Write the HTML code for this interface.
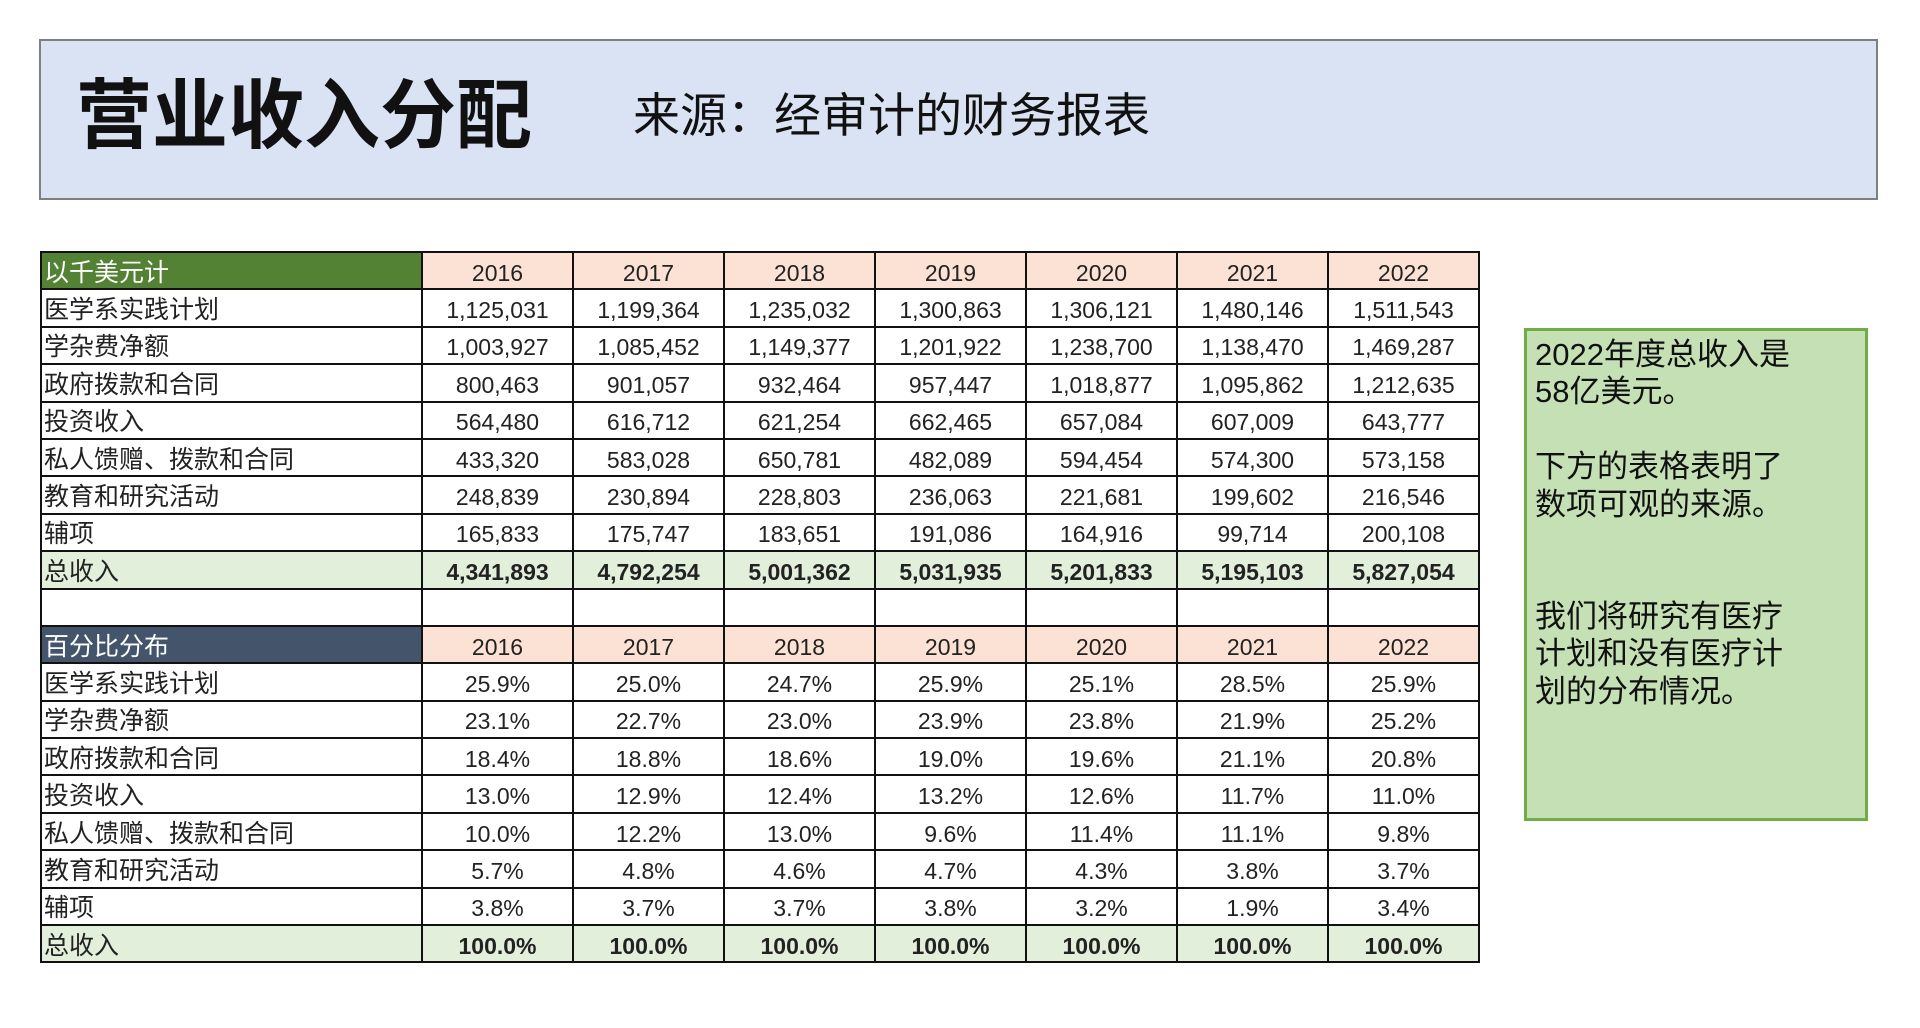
<!DOCTYPE html>
<html><head><meta charset="utf-8"><style>
body{margin:0;width:1920px;height:1028px;background:#fff;position:relative;overflow:hidden;font-family:"Liberation Sans","Noto Sans CJK SC",sans-serif;}
.hdr{position:absolute;left:39px;top:39px;width:1835px;height:157px;background:#dae3f3;border:2px solid #7f7f7f;}
.t1{position:absolute;left:76px;top:72px;font-size:76px;font-weight:bold;line-height:90px;color:#111;}
.t2{position:absolute;left:633px;top:86px;font-size:47px;line-height:60px;color:#111;}
table{position:absolute;left:40px;top:251px;border-collapse:collapse;table-layout:fixed;width:1440px;}
tr{height:37.4px;}
td{border:2px solid #111;height:37.4px;box-sizing:border-box;padding:4px 0 0 0;font-size:23px;text-align:center;color:#222;white-space:nowrap;overflow:hidden;line-height:30px;}
td.l{text-align:left;font-size:25px;padding-left:2px;}
.g{background:#548235;color:#fff;}
.b{background:#44546a;color:#fff;}
.y{background:#fbe2d5;}
.tot td{background:#e2efda;font-weight:bold;}
.box{position:absolute;left:1524px;top:328px;width:338px;height:487px;background:#c5e0b4;border:3px solid #70ad47;}
.bt{position:absolute;left:1535px;top:336px;font-size:31px;line-height:37.4px;color:#111;}
</style></head><body>
<div class="hdr"></div>
<div class="t1">营业收入分配</div>
<div class="t2">来源：经审计的财务报表</div>
<table>
<colgroup><col style="width:381px"><col span="7" style="width:151px"></colgroup>
<tr><td class="l g">以千美元计</td><td class="y">2016</td><td class="y">2017</td><td class="y">2018</td><td class="y">2019</td><td class="y">2020</td><td class="y">2021</td><td class="y">2022</td></tr>
<tr><td class="l">医学系实践计划</td><td>1,125,031</td><td>1,199,364</td><td>1,235,032</td><td>1,300,863</td><td>1,306,121</td><td>1,480,146</td><td>1,511,543</td></tr>
<tr><td class="l">学杂费净额</td><td>1,003,927</td><td>1,085,452</td><td>1,149,377</td><td>1,201,922</td><td>1,238,700</td><td>1,138,470</td><td>1,469,287</td></tr>
<tr><td class="l">政府拨款和合同</td><td>800,463</td><td>901,057</td><td>932,464</td><td>957,447</td><td>1,018,877</td><td>1,095,862</td><td>1,212,635</td></tr>
<tr><td class="l">投资收入</td><td>564,480</td><td>616,712</td><td>621,254</td><td>662,465</td><td>657,084</td><td>607,009</td><td>643,777</td></tr>
<tr><td class="l">私人馈赠、拨款和合同</td><td>433,320</td><td>583,028</td><td>650,781</td><td>482,089</td><td>594,454</td><td>574,300</td><td>573,158</td></tr>
<tr><td class="l">教育和研究活动</td><td>248,839</td><td>230,894</td><td>228,803</td><td>236,063</td><td>221,681</td><td>199,602</td><td>216,546</td></tr>
<tr><td class="l">辅项</td><td>165,833</td><td>175,747</td><td>183,651</td><td>191,086</td><td>164,916</td><td>99,714</td><td>200,108</td></tr>
<tr class="tot"><td class="l" style="font-weight:normal">总收入</td><td>4,341,893</td><td>4,792,254</td><td>5,001,362</td><td>5,031,935</td><td>5,201,833</td><td>5,195,103</td><td>5,827,054</td></tr>
<tr><td class="l"></td><td></td><td></td><td></td><td></td><td></td><td></td><td></td></tr>
<tr><td class="l b">百分比分布</td><td class="y">2016</td><td class="y">2017</td><td class="y">2018</td><td class="y">2019</td><td class="y">2020</td><td class="y">2021</td><td class="y">2022</td></tr>
<tr><td class="l">医学系实践计划</td><td>25.9%</td><td>25.0%</td><td>24.7%</td><td>25.9%</td><td>25.1%</td><td>28.5%</td><td>25.9%</td></tr>
<tr><td class="l">学杂费净额</td><td>23.1%</td><td>22.7%</td><td>23.0%</td><td>23.9%</td><td>23.8%</td><td>21.9%</td><td>25.2%</td></tr>
<tr><td class="l">政府拨款和合同</td><td>18.4%</td><td>18.8%</td><td>18.6%</td><td>19.0%</td><td>19.6%</td><td>21.1%</td><td>20.8%</td></tr>
<tr><td class="l">投资收入</td><td>13.0%</td><td>12.9%</td><td>12.4%</td><td>13.2%</td><td>12.6%</td><td>11.7%</td><td>11.0%</td></tr>
<tr><td class="l">私人馈赠、拨款和合同</td><td>10.0%</td><td>12.2%</td><td>13.0%</td><td>9.6%</td><td>11.4%</td><td>11.1%</td><td>9.8%</td></tr>
<tr><td class="l">教育和研究活动</td><td>5.7%</td><td>4.8%</td><td>4.6%</td><td>4.7%</td><td>4.3%</td><td>3.8%</td><td>3.7%</td></tr>
<tr><td class="l">辅项</td><td>3.8%</td><td>3.7%</td><td>3.7%</td><td>3.8%</td><td>3.2%</td><td>1.9%</td><td>3.4%</td></tr>
<tr class="tot"><td class="l" style="font-weight:normal">总收入</td><td>100.0%</td><td>100.0%</td><td>100.0%</td><td>100.0%</td><td>100.0%</td><td>100.0%</td><td>100.0%</td></tr>
</table>
<div class="box"></div>
<div class="bt">2022年度总收入是<br>58亿美元。<br><br>下方的表格表明了<br>数项可观的来源。<br><br><br>我们将研究有医疗<br>计划和没有医疗计<br>划的分布情况。</div>
</body></html>
